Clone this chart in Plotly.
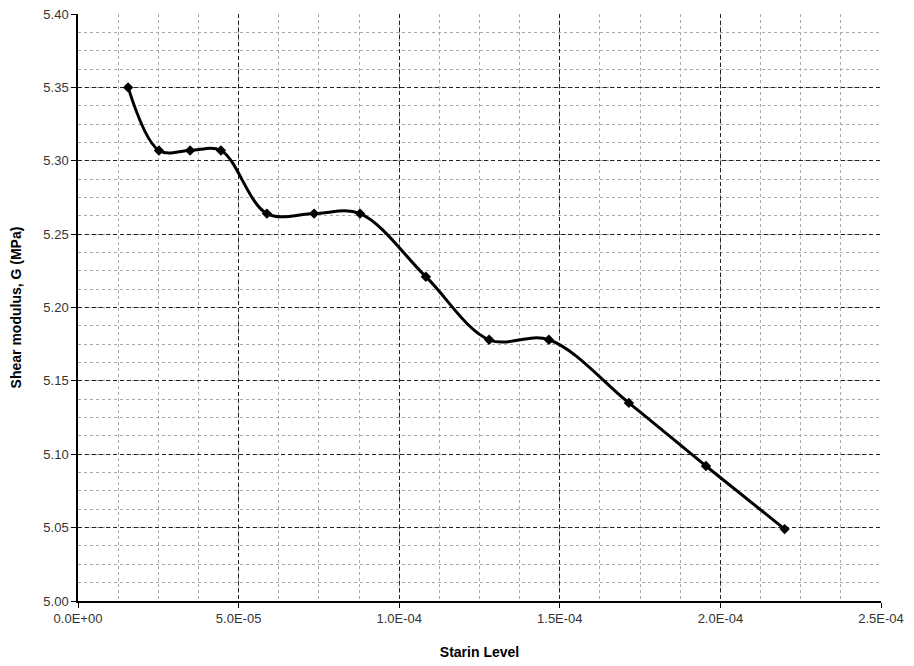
import plotly.graph_objects as go

# Strain level vs shear modulus measurements
strain = [1.56e-5, 2.52e-5, 3.49e-5, 4.45e-5, 5.88e-5, 7.35e-5, 8.78e-5,
          1.083e-4, 1.28e-4, 1.466e-4, 1.715e-4, 1.955e-4, 2.20e-4]
shear_modulus = [5.350, 5.307, 5.307, 5.307, 5.264, 5.264, 5.264,
                 5.221, 5.178, 5.178, 5.135, 5.092, 5.049]

x_tick_vals = [0, 5e-5, 1e-4, 1.5e-4, 2e-4, 2.5e-4]
x_tick_text = ["0.0E+00", "5.0E-05", "1.0E-04", "1.5E-04", "2.0E-04", "2.5E-04"]
y_tick_vals = [5.00, 5.05, 5.10, 5.15, 5.20, 5.25, 5.30, 5.35, 5.40]
y_tick_text = ["5.00", "5.05", "5.10", "5.15", "5.20", "5.25", "5.30", "5.35", "5.40"]

fig = go.Figure()
fig.add_trace(go.Scatter(
    x=strain, y=shear_modulus,
    mode="lines+markers",
    line=dict(color="black", width=3, shape="spline", smoothing=1.0),
    marker=dict(symbol="diamond", size=8, color="black"),
    showlegend=False,
))

tick_font = dict(family="Liberation Sans, Arial, sans-serif", size=13, color="#333333")
title_font = dict(family="Liberation Sans, Arial, sans-serif", size=14, color="black")

fig.update_xaxes(
    range=[0, 2.5e-4],
    tickvals=x_tick_vals, ticktext=x_tick_text,
    tickfont=tick_font,
    title=dict(text="<b>Starin Level</b>", font=title_font, standoff=22),
    showline=True, linecolor="black", linewidth=1.5,
    ticks="outside", ticklen=5, tickcolor="black",
    showgrid=True, gridcolor="#222222", gridwidth=1, griddash="4px,3px",
    zeroline=False, automargin=False,
    minor=dict(dtick=1.25e-5, tick0=0, showgrid=True, gridcolor="#aaaaaa",
               gridwidth=1, griddash="dot"),
)
fig.update_yaxes(
    range=[5.0, 5.4],
    tickvals=y_tick_vals, ticktext=y_tick_text,
    tickfont=tick_font,
    title=dict(text="<b>Shear modulus, G (MPa)</b>", font=title_font, standoff=18),
    showline=True, linecolor="black", linewidth=1.5,
    ticks="outside", ticklen=5, tickcolor="black",
    showgrid=True, gridcolor="#222222", gridwidth=1, griddash="4px,3px",
    zeroline=False, automargin=False,
    minor=dict(dtick=0.0125, tick0=5.0, showgrid=True, gridcolor="#aaaaaa",
               gridwidth=1, griddash="dot"),
)

fig.update_layout(
    width=914, height=666,
    margin=dict(l=78, r=33, t=14, b=65),
    plot_bgcolor="white", paper_bgcolor="white",
)

fig.write_html("out.html")
